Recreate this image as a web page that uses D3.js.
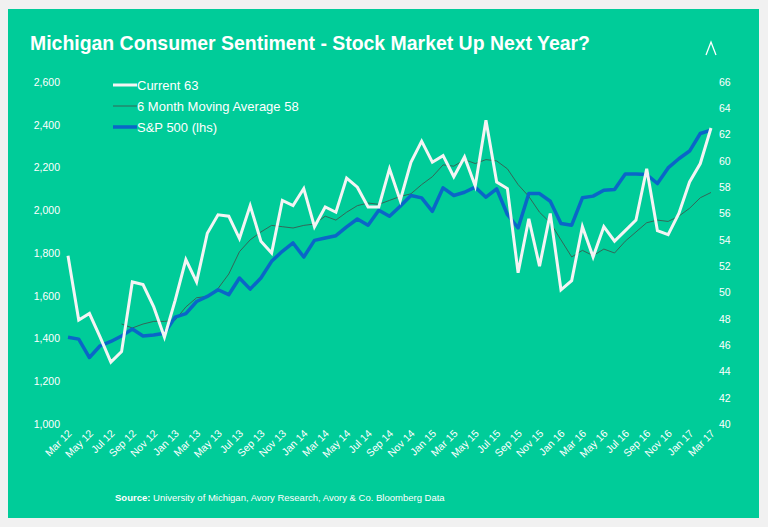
<!DOCTYPE html>
<html><head><meta charset="utf-8">
<script src="https://cdn.jsdelivr.net/npm/d3@7"></script>
<style>body{margin:0;background:#f1f1f1;}svg{display:block;font-family:Arial,"Liberation Sans",sans-serif;}</style>
</head><body><svg id="c" width="768" height="527"></svg>
<script>
const monthNames=["Jan","Feb","Mar","Apr","May","Jun","Jul","Aug","Sep","Oct","Nov","Dec"];
const months=[];for(let i=0;i<61;i++){const m=(2+i)%12,y=12+Math.floor((2+i)/12);months.push(monthNames[m]+" "+y);}
const current=[52.8,47.9,48.4,46.6,44.7,45.5,50.8,50.6,48.9,46.6,49.4,52.5,50.8,54.5,55.9,55.8,54.1,56.6,53.9,53.0,57.0,56.6,57.9,55.0,56.5,56.1,58.7,58.0,56.5,56.5,59.4,57.0,59.9,61.5,59.9,60.4,58.8,60.3,58.1,63.1,58.4,57.9,51.5,55.6,52.0,56.0,50.2,50.9,55.0,52.7,55.0,53.9,54.7,55.5,59.4,54.7,54.4,56.0,58.4,59.8,62.5];
const movingAvg=[null,null,null,null,null,47.6,47.3,47.6,47.8,47.8,47.9,48.9,49.6,49.7,50.3,51.4,53.1,54.0,54.6,55.1,55.0,54.9,55.1,55.2,55.8,55.5,56.1,56.6,56.8,56.7,57.0,57.3,57.5,58.2,58.8,59.7,59.6,60.1,59.8,60.1,60.0,59.4,58.2,57.3,56.1,55.3,54.0,52.7,53.2,52.8,53.3,53.0,53.9,54.6,55.3,55.5,55.4,55.8,56.4,57.2,57.6];
const sp500=[1406,1397,1311,1366,1386,1412,1444,1412,1416,1425,1500,1516,1573,1597,1628,1605,1683,1631,1683,1761,1808,1847,1781,1859,1870,1881,1922,1959,1930,2000,1972,2019,2069,2058,1995,2105,2069,2084,2108,2061,2100,1980,1917,2078,2078,2042,1938,1930,2058,2066,2094,2097,2170,2170,2167,2125,2198,2241,2277,2359,2375];
const leftTicks=[1000,1200,1400,1600,1800,2000,2200,2400,2600];
const rightTicks=[40,42,44,46,48,50,52,54,56,58,60,62,64,66];

const svg=d3.select("#c");
svg.append("rect").attr("x",8).attr("y",9).attr("width",751).attr("height",509).attr("fill","#00cc99");
svg.append("text").attr("x",30).attr("y",50).attr("fill","#fff").attr("font-size",21).attr("font-weight","bold")
  .attr("textLength",560).attr("lengthAdjust","spacingAndGlyphs").text("Michigan Consumer Sentiment - Stock Market Up Next Year?");
svg.append("path").attr("d","M706,55 L711,42 L716,55").attr("fill","none").attr("stroke","#fff").attr("stroke-width",1.3);

const x=d3.scalePoint().domain(months).range([68,711]);
const yL=d3.scaleLinear().domain([1000,2600]).range([424,82]);
const yR=d3.scaleLinear().domain([40,66]).range([424,82]);

const gl=svg.append("g").attr("transform","translate(60,0)").call(d3.axisLeft(yL).tickValues(leftTicks).tickFormat(d3.format(",")).tickSize(0).tickPadding(0));
const gr=svg.append("g").attr("transform","translate(719,0)").call(d3.axisRight(yR).tickValues(rightTicks).tickSize(0).tickPadding(0));
const gx=svg.append("g").attr("transform","translate(0,428)").call(d3.axisBottom(x).tickValues(months.filter((d,i)=>i%2==0)).tickSize(0).tickPadding(0));
[gl,gr,gx].forEach(g=>{g.select(".domain").remove();g.selectAll("text").attr("fill","#fff").attr("font-size",10.5).attr("font-family","Arial,'Liberation Sans',sans-serif");});
gx.selectAll("text").attr("text-anchor","end").attr("dy","0").attr("y",0).attr("transform","translate(4,6) rotate(-45)");

const lineR=d3.line().defined(d=>d!=null).x((d,i)=>x(months[i])).y(d=>yR(d));
const lineL=d3.line().x((d,i)=>x(months[i])).y(d=>yL(d));
svg.append("path").attr("d",lineR(movingAvg)).attr("fill","none").attr("stroke","#3a5a50").attr("stroke-width",0.9);
svg.append("path").attr("d",lineL(sp500)).attr("fill","none").attr("stroke","#0a66c8").attr("stroke-width",3.5).attr("stroke-linejoin","round");
svg.append("path").attr("d",lineR(current)).attr("fill","none").attr("stroke","#f4f4f4").attr("stroke-width",3).attr("stroke-linejoin","miter");

const leg=[["Current 63","#f4f4f4",3],["6 Month Moving Average 58","#3a5a50",0.9],["S&P 500 (lhs)","#0a66c8",3.5]];
leg.forEach((l,i)=>{const yy=85+i*21;
  svg.append("line").attr("x1",113).attr("x2",137).attr("y1",yy).attr("y2",yy).attr("stroke",l[1]).attr("stroke-width",l[2]);
  svg.append("text").attr("x",137).attr("y",yy+4.5).attr("fill","#fff").attr("font-size",13).text(l[0]);});

const src=svg.append("text").attr("x",115).attr("y",501).attr("fill","#fff").attr("font-size",9.5);
src.append("tspan").attr("font-weight","bold").text("Source:");
src.append("tspan").text(" University of Michigan,  Avory Research, Avory & Co. Bloomberg Data");
</script></body></html>
